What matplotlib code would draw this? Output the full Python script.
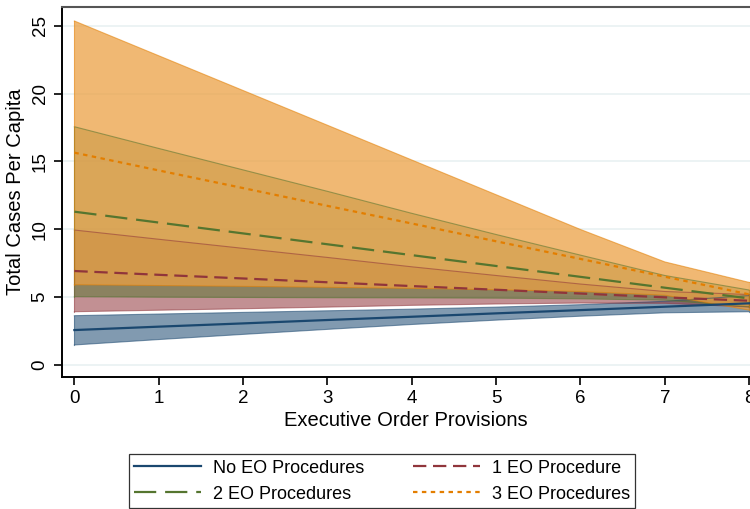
import matplotlib
matplotlib.use("Agg")
import matplotlib.pyplot as plt
from matplotlib.lines import Line2D

plt.rcParams['font.family'] = ['Liberation Sans', 'DejaVu Sans']

provisions = [0, 1, 2, 3, 4, 5, 6, 7, 8]

no_eo = [2.58, 2.83, 3.07, 3.32, 3.56, 3.81, 4.05, 4.30, 4.55]
no_eo_lo = [1.48, 1.88, 2.26, 2.63, 2.99, 3.31, 3.60, 3.85, 3.93]
no_eo_hi = [3.64, 3.76, 3.88, 4.00, 4.12, 4.27, 4.45, 4.70, 5.12]

one_eo = [6.93, 6.65, 6.38, 6.10, 5.82, 5.55, 5.27, 4.99, 4.74]
one_eo_lo = [3.93, 4.04, 4.15, 4.27, 4.40, 4.50, 4.57, 4.55, 4.28]
one_eo_hi = [9.95, 9.27, 8.60, 7.93, 7.24, 6.60, 5.97, 5.42, 5.20]

two_eo = [11.3, 10.5, 9.7, 8.9, 8.1, 7.3, 6.5, 5.7, 4.91]
two_eo_lo = [5.04, 5.00, 4.98, 4.96, 4.95, 4.93, 4.88, 4.78, 4.29]
two_eo_hi = [17.56, 15.96, 14.38, 12.80, 11.18, 9.62, 8.10, 6.60, 5.53]

three_eo = [15.65, 14.34, 13.04, 11.73, 10.43, 9.12, 7.82, 6.51, 5.21]
three_eo_lo = [5.92, 5.86, 5.80, 5.73, 5.65, 5.55, 5.42, 5.15, 4.05]
three_eo_hi = [25.35, 22.79, 20.23, 17.67, 15.11, 12.55, 9.99, 7.60, 6.09]

labels = ["No EO Procedures", "1 EO Procedure", "2 EO Procedures", "3 EO Procedures"]
colors = ["#1a476f", "#90353b", "#55752f", "#e37e00"]
fills = ["#1a476f", "#90353b", "#55752f", "#eba044"]
alphas = [0.55, 0.55, 0.5, 0.75]
styles = ["-", (0, (6, 3)), (0, (10, 4)), (0, (2, 2))]

fig = plt.figure(figsize=(7.5, 5.09), dpi=100)
ax = fig.add_axes([0.0823, 0.2593, 0.9177, 0.7264])

series = [(no_eo, no_eo_lo, no_eo_hi), (one_eo, one_eo_lo, one_eo_hi),
          (two_eo, two_eo_lo, two_eo_hi), (three_eo, three_eo_lo, three_eo_hi)]

for yv in range(0, 26, 5):
    ax.axhline(yv, color="#eaf2f3", lw=1.3, zorder=0)

for (m, lo, hi), c, fc, a in zip(series, colors, fills, alphas):
    ax.fill_between(provisions, lo, hi, facecolor=fc, alpha=a, edgecolor="none", zorder=1)
    ax.plot(provisions, lo, color=c, lw=0.8, alpha=0.55, zorder=1.5)
    ax.plot(provisions, hi, color=c, lw=0.8, alpha=0.55, zorder=1.5)
    ax.plot([provisions[0], provisions[0]], [lo[0], hi[0]], color=c, lw=0.8, alpha=0.55, zorder=1.5)
    ax.plot([provisions[-1], provisions[-1]], [lo[-1], hi[-1]], color=c, lw=0.8, alpha=0.55, zorder=1.5)

handles = []
for (m, lo, hi), c, ls, lab in zip(series, colors, styles, labels):
    ax.plot(provisions, m, color=c, lw=1.6, ls=ls, zorder=3)
    handles.append(Line2D([], [], color=c, lw=1.6, ls=ls, label=lab))

ax.set_xlim(-0.15, 8.01)
ax.set_ylim(-0.88, 26.36)
ax.set_xticks(range(0, 9))
ax.set_yticks(range(0, 26, 5))
ax.tick_params(axis='both', direction='out', length=6, width=1.2, labelsize=13.5, colors='black')
ax.tick_params(axis='y', labelrotation=90)
for t in ax.get_yticklabels():
    t.set_va('center')
ax.spines['left'].set_linewidth(1.4)
ax.spines['bottom'].set_linewidth(1.4)
ax.spines['right'].set_visible(False)
ax.spines['top'].set_color('#555555')
ax.spines['top'].set_linewidth(1.5)

ax.set_xlabel("Executive Order Provisions", fontsize=14.5, labelpad=3)
ax.set_ylabel("Total Cases Per Capita", fontsize=14.5, labelpad=5)

order = [handles[0], handles[2], handles[1], handles[3]]
leg = fig.legend(handles=order, loc='lower left', bbox_to_anchor=(0.172, 0.002, 0.675, 0.128),
                 mode='expand', ncol=2, frameon=True, fancybox=False, edgecolor='black',
                 fontsize=13, handlelength=3.7, columnspacing=1.8, borderaxespad=0,
                 handletextpad=0.65, labelspacing=0.5, borderpad=0.3)
leg.get_frame().set_linewidth(0.9)

fig.savefig("out.png", dpi=100)
